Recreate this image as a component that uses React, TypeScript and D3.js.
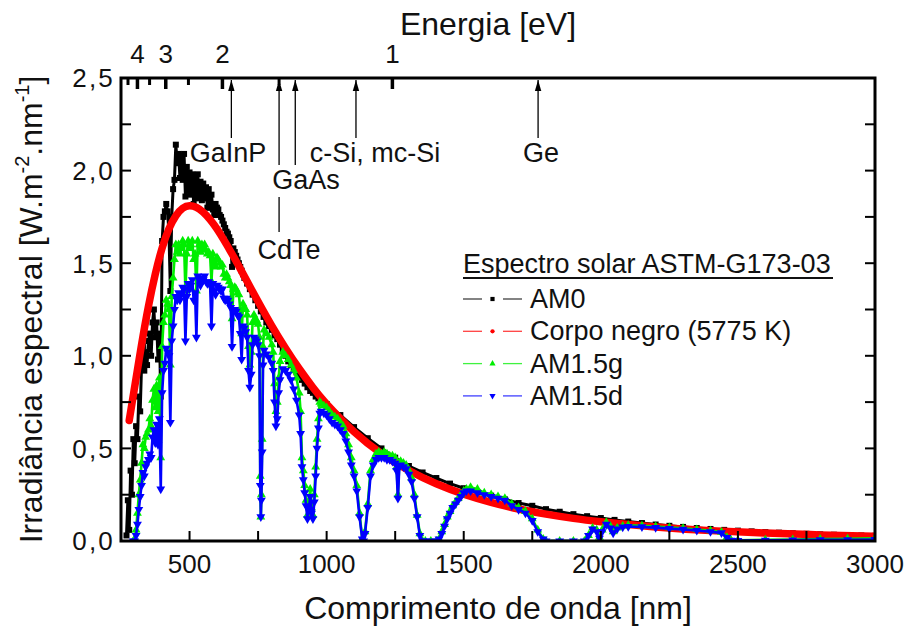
import React from "react";
import * as d3 from "d3";

// Extraterrestrial spectrum (AM0), W.m-2.nm-1
const wlAm0 = [
  270, 275, 280, 285, 290, 295, 300, 305, 310, 315, 320, 325, 330, 335, 340, 345, 350, 355, 360, 365,
  370, 375, 380, 385, 390, 395, 400, 405, 410, 415, 420, 425, 430, 435, 440, 445, 450, 455, 460, 465,
  470, 475, 480, 485, 490, 495, 500, 505, 510, 515, 520, 525, 530, 535, 540, 545, 550, 555, 560, 565,
  570, 575, 580, 585, 590, 595, 600, 605, 610, 615, 620, 625, 630, 635, 640, 645, 650, 655, 660, 665,
  670, 675, 680, 685, 690, 695, 700,
  710, 720, 730, 740, 750, 760, 770, 780, 790, 800, 810, 820, 830, 840, 850, 860, 870, 880, 890, 900,
  910, 920, 930, 940, 950, 960, 970, 980, 990, 1000,
  1050, 1100, 1150, 1200, 1250, 1300, 1350, 1400, 1450, 1500, 1550, 1600, 1650, 1700, 1750, 1800,
  1850, 1900, 1950, 2000, 2050, 2100, 2150, 2200, 2250, 2300, 2350, 2400, 2450, 2500, 2550, 2600,
  2650, 2700, 2750, 2800, 2850, 2900, 2950, 3000,
];
const am0 = [
  0.03, 0.22, 0.06, 0.38, 0.25, 0.55, 0.42, 0.62, 0.55, 0.78, 0.70, 0.95, 1.05, 0.92, 1.02, 0.95, 1.08, 1.12, 1.00, 1.18,
  1.25, 1.10, 1.18, 0.98, 1.12, 0.78, 1.62, 1.75, 1.78, 1.82, 1.78, 1.66, 1.35, 1.75, 1.90, 1.95, 2.14, 2.04, 2.09, 1.96,
  2.08, 1.95, 2.09, 1.86, 2.02, 1.89, 1.99, 1.87, 1.98, 1.82, 1.95, 1.85, 1.98, 1.86, 1.94, 1.84, 1.93, 1.85, 1.91, 1.80,
  1.90, 1.80, 1.87, 1.79, 1.76, 1.82, 1.80, 1.79, 1.76, 1.75, 1.73, 1.71, 1.69, 1.67, 1.66, 1.64, 1.62, 1.48, 1.58, 1.56,
  1.54, 1.52, 1.50, 1.48, 1.46, 1.44, 1.42,
  1.39, 1.36, 1.33, 1.30, 1.27, 1.24, 1.21, 1.18, 1.16, 1.14, 1.11, 1.09, 1.06, 1.03, 1.00, 0.97, 0.95, 0.93, 0.91, 0.89,
  0.87, 0.85, 0.83, 0.81, 0.80, 0.78, 0.77, 0.76, 0.75, 0.74,
  0.68, 0.615, 0.555, 0.50, 0.45, 0.405, 0.37, 0.34, 0.31, 0.285, 0.265, 0.245, 0.225, 0.205, 0.19, 0.172,
  0.158, 0.145, 0.134, 0.124, 0.114, 0.105, 0.097, 0.089, 0.082, 0.076, 0.070, 0.065, 0.060, 0.056, 0.052, 0.048,
  0.045, 0.042, 0.039, 0.036, 0.034, 0.032, 0.030, 0.028,
];

// Black body at 5775 K, scaled to the solar irradiance
const wlBlackbody = [
  280, 300, 325, 350, 375, 400, 425, 450, 475, 500, 525, 550, 575, 600, 625, 650, 675, 700, 750, 800,
  850, 900, 950, 1000, 1100, 1200, 1300, 1400, 1500, 1600, 1700, 1800, 1900, 2000, 2200, 2400, 2600,
  2800, 3000,
];
const blackbody = [
  0.651, 0.834, 1.060, 1.266, 1.441, 1.582, 1.686, 1.756, 1.797, 1.810, 1.801, 1.775, 1.735, 1.685, 1.626,
  1.563, 1.497, 1.429, 1.293, 1.162, 1.041, 0.930, 0.829, 0.740, 0.590, 0.472, 0.381, 0.309, 0.253, 0.209,
  0.173, 0.145, 0.122, 0.104, 0.076, 0.056, 0.043, 0.033, 0.026,
];

// Terrestrial spectra (AM1.5 global and direct) share one wavelength grid
const wlTerrestrial = [
  295, 300, 305, 310, 315, 320, 325, 330, 335, 340,
  345, 350, 355, 360, 365, 370, 375, 380, 385, 390,
  395, 400, 405, 410, 415, 420, 425, 430, 435, 440,
  445, 450, 455, 460, 465, 470, 475, 480, 485, 490,
  495, 500, 505, 510, 515, 520, 525, 530, 535, 540,
  545, 550, 555, 560, 565, 570, 575, 580, 585, 590,
  595, 600, 605, 610, 615, 620, 625, 630, 635, 640,
  645, 650, 655, 660, 665, 670, 675, 680, 685, 690,
  695, 700,
  705, 710, 715, 720, 725, 730, 735, 740, 745, 750,
  755, 758, 760, 762, 765, 768, 772, 780, 790, 800,
  805, 810, 815, 820, 825, 830, 840, 850, 860, 870,
  880, 890, 900, 905, 910, 915, 920, 925, 930, 935,
  940, 945, 950, 955, 960, 965, 970, 975, 980, 990,
  1000,
  1010, 1020, 1030, 1040, 1050, 1060, 1070, 1080, 1090, 1100,
  1110, 1120, 1130, 1135, 1140, 1150, 1160, 1170, 1180, 1190,
  1200, 1210, 1220, 1230, 1240, 1250, 1255, 1260, 1265, 1270,
  1280, 1290, 1300, 1310, 1320, 1330, 1340, 1350, 1360, 1380,
  1400, 1410, 1420, 1430, 1440, 1450, 1460, 1470, 1480, 1490,
  1500, 1510,
  1525, 1550, 1575, 1600, 1625, 1650, 1675, 1700, 1725, 1750,
  1770, 1790, 1800, 1850, 1900, 1940, 1955, 1970, 1985, 1995,
  2005, 2020, 2035, 2045, 2060, 2080, 2100, 2150, 2200, 2250,
  2300, 2350, 2400, 2440, 2460, 2475, 2500, 2600, 2700, 2800,
  2900, 3000,
];
const am15g = [
  0.00, 0.01, 0.06, 0.15, 0.25, 0.33, 0.42, 0.52, 0.50, 0.56,
  0.58, 0.60, 0.66, 0.62, 0.76, 0.82, 0.72, 0.84, 0.70, 0.88,
  0.45, 1.05, 1.18, 1.22, 1.30, 1.28, 1.25, 0.95, 1.32, 1.42,
  1.52, 1.60, 1.56, 1.60, 1.55, 1.58, 1.62, 1.60, 1.35, 1.55,
  1.62, 1.58, 1.60, 1.62, 1.52, 1.55, 1.35, 1.62, 1.60, 1.56,
  1.60, 1.58, 1.60, 1.57, 1.55, 1.56, 1.54, 1.40, 1.55, 1.50,
  1.48, 1.53, 1.52, 1.50, 1.48, 1.49, 1.44, 1.42, 1.44, 1.42,
  1.40, 1.38, 1.20, 1.36, 1.37, 1.36, 1.34, 1.33, 1.25, 1.12,
  1.28, 1.26,
  1.25, 1.22, 1.05, 0.95, 1.02, 1.18, 1.22, 1.20, 1.19, 1.17,
  1.10, 0.35, 0.13, 0.25, 0.55, 1.05, 1.14, 1.12, 1.10, 1.06,
  1.02, 0.85, 0.70, 0.75, 0.88, 0.97, 1.02, 1.00, 0.98, 0.95,
  0.92, 0.88, 0.80, 0.70, 0.45, 0.38, 0.30, 0.22, 0.14, 0.20,
  0.28, 0.18, 0.14, 0.25, 0.40, 0.55, 0.66, 0.75, 0.74, 0.73,
  0.72,
  0.70, 0.68, 0.67, 0.66, 0.64, 0.62, 0.58, 0.52, 0.45, 0.38,
  0.30, 0.15, 0.01, 0.00, 0.05, 0.20, 0.38, 0.44, 0.47, 0.48,
  0.47, 0.48, 0.47, 0.46, 0.46, 0.45, 0.40, 0.25, 0.42, 0.43,
  0.42, 0.41, 0.38, 0.34, 0.25, 0.14, 0.04, 0.00, 0.00, 0.00,
  0.00, 0.01, 0.05, 0.09, 0.13, 0.16, 0.19, 0.21, 0.23, 0.25,
  0.27, 0.28,
  0.29, 0.28, 0.26, 0.25, 0.24, 0.23, 0.20, 0.18, 0.16, 0.12,
  0.06, 0.01, 0.00, 0.00, 0.00, 0.00, 0.03, 0.07, 0.06, 0.02,
  0.06, 0.10, 0.08, 0.05, 0.07, 0.08, 0.085, 0.082, 0.078, 0.072,
  0.068, 0.062, 0.055, 0.048, 0.02, 0.005, 0.004, 0.006, 0.008, 0.010,
  0.012, 0.015,
];
const am15d = [
  0.00, 0.00, 0.03, 0.09, 0.17, 0.24, 0.30, 0.37, 0.35, 0.40,
  0.42, 0.44, 0.47, 0.45, 0.56, 0.60, 0.53, 0.63, 0.52, 0.66,
  0.28, 0.80, 0.92, 0.96, 1.04, 1.02, 1.00, 0.64, 1.08, 1.16,
  1.25, 1.32, 1.30, 1.34, 1.30, 1.33, 1.37, 1.36, 1.08, 1.32,
  1.39, 1.36, 1.38, 1.41, 1.30, 1.34, 1.10, 1.43, 1.41, 1.38,
  1.42, 1.41, 1.43, 1.40, 1.39, 1.40, 1.38, 1.16, 1.39, 1.35,
  1.33, 1.38, 1.37, 1.36, 1.35, 1.36, 1.31, 1.30, 1.31, 1.30,
  1.28, 1.26, 1.05, 1.24, 1.25, 1.24, 1.22, 1.21, 1.12, 0.98,
  1.16, 1.15,
  1.13, 1.10, 0.92, 0.83, 0.90, 1.06, 1.10, 1.09, 1.08, 1.06,
  1.00, 0.30, 0.13, 0.22, 0.48, 0.95, 1.03, 1.01, 0.99, 0.96,
  0.92, 0.75, 0.62, 0.66, 0.80, 0.87, 0.93, 0.92, 0.90, 0.87,
  0.82, 0.76, 0.68, 0.58, 0.40, 0.33, 0.26, 0.19, 0.12, 0.17,
  0.24, 0.15, 0.12, 0.21, 0.35, 0.50, 0.61, 0.69, 0.70, 0.69,
  0.68,
  0.66, 0.64, 0.63, 0.62, 0.60, 0.58, 0.54, 0.48, 0.41, 0.35,
  0.27, 0.13, 0.01, 0.00, 0.04, 0.18, 0.35, 0.41, 0.44, 0.45,
  0.45, 0.45, 0.44, 0.44, 0.43, 0.42, 0.38, 0.23, 0.40, 0.41,
  0.40, 0.39, 0.36, 0.32, 0.23, 0.13, 0.03, 0.00, 0.00, 0.00,
  0.00, 0.01, 0.04, 0.08, 0.12, 0.15, 0.18, 0.20, 0.22, 0.24,
  0.26, 0.27,
  0.27, 0.26, 0.25, 0.24, 0.23, 0.22, 0.19, 0.17, 0.15, 0.11,
  0.05, 0.01, 0.00, 0.00, 0.00, 0.00, 0.03, 0.065, 0.05, 0.015,
  0.05, 0.09, 0.07, 0.043, 0.065, 0.075, 0.078, 0.076, 0.072, 0.067,
  0.063, 0.057, 0.05, 0.044, 0.018, 0.004, 0.003, 0.004, 0.005, 0.006,
  0.007, 0.008,
];

// Axis ticks
const wavelengthTicks = [500, 1000, 1500, 2000, 2500, 3000];
const wavelengthMinorTicks = [750, 1250, 1750, 2250, 2750];
const irradianceTicks = [0, 0.5, 1.0, 1.5, 2.0, 2.5];
const irradianceMinorTicks = [0.25, 0.75, 1.25, 1.75, 2.25];
const energyTicks = [4, 3, 2, 1];
const energyMinorTicks = [4.5, 3.5, 2.5, 1.5];

// Band gaps of photovoltaic materials (eV)
const materials = ["GaInP", "CdTe", "GaAs", "c-Si, mc-Si", "Ge"];
const bandGaps = [1.9, 1.5, 1.4, 1.12, 0.7];

const legendTitle = "Espectro solar ASTM-G173-03";
const seriesNames = ["AM0", "Corpo negro (5775 K)", "AM1.5g", "AM1.5d"];

const FONT = "'Liberation Sans', Arial, Helvetica, sans-serif";
const HC = 1239.84; // eV.nm

export default function App() {
  const width = 906;
  const height = 630;
  const plot = { left: 121, right: 875, top: 78, bottom: 541 };

  const x = d3.scaleLinear().domain([250, 3000]).range([plot.left, plot.right]);
  const y = d3.scaleLinear().domain([0, 2.5]).range([plot.bottom, plot.top]);
  const xEnergy = (e: number) => x(HC / e);

  const line = d3
    .line<[number, number]>()
    .x((d) => x(d[0]))
    .y((d) => y(d[1]));
  const smoothLine = d3
    .line<[number, number]>()
    .x((d) => x(d[0]))
    .y((d) => y(d[1]))
    .curve(d3.curveNatural);
  const pairs = (wl: number[], v: number[]) =>
    wl.map((w, i) => [w, v[i]] as [number, number]);

  const squarePath = d3.symbol().type(d3.symbolSquare).size(36)() as string;
  const trianglePath = d3.symbol().type(d3.symbolTriangle).size(34)() as string;
  const circlePath = d3.symbol().type(d3.symbolCircle).size(30)() as string;

  const am0Pts = pairs(wlAm0, am0);
  const bbPts = pairs(wlBlackbody, blackbody);
  const gPts = pairs(wlTerrestrial, am15g);
  const dPts = pairs(wlTerrestrial, am15d);

  const fmt = (v: number) => v.toFixed(1).replace(".", ",");

  // label placement for each band-gap marker
  const gapLayout: Record<string, { lx: number; ly: number; segs: [number, number][] }> = {
    GaInP: { lx: 228, ly: 162, segs: [[80, 138]] },
    CdTe: { lx: 289, ly: 259, segs: [[80, 165], [197, 232]] },
    GaAs: { lx: 306, ly: 189, segs: [[80, 165]] },
    "c-Si, mc-Si": { lx: 375, ly: 162, segs: [[80, 138]] },
    Ge: { lx: 541, ly: 162, segs: [[80, 138]] },
  };

  const legend = { x: 463, titleY: 273, rowY0: 308, rowGap: 32.3, textX: 530 };
  const seriesStyle = [
    { color: "#000000", marker: "square" },
    { color: "#ff0000", marker: "circle" },
    { color: "#00ee00", marker: "up" },
    { color: "#0000ff", marker: "down" },
  ];

  const markerEl = (
    kind: string,
    color: string,
    cx: number,
    cy: number,
    key: string | number,
    scale = 1
  ) => {
    const d = kind === "square" ? squarePath : kind === "circle" ? circlePath : trianglePath;
    const rot = kind === "down" ? " rotate(180)" : "";
    return (
      <path key={key} d={d} fill={color} transform={`translate(${cx},${cy})${rot} scale(${scale})`} />
    );
  };

  return (
    <svg
      width={width}
      height={height}
      style={{ position: "absolute", left: 0, top: 0, background: "#fff" }}
      fontFamily={FONT}
    >
      <defs>
        <clipPath id="plot-area">
          <rect x={plot.left} y={plot.top} width={plot.right - plot.left} height={plot.bottom - plot.top} />
        </clipPath>
      </defs>
      <rect width={width} height={height} fill="#fff" />

      {/* spectra */}
      <g clipPath="url(#plot-area)">
        <g>
          <path d={line(am0Pts) || ""} fill="none" stroke="#000" strokeWidth={3} strokeLinejoin="round" />
          {am0Pts.map((p, i) => markerEl("square", "#000", x(p[0]), y(p[1]), `a${i}`))}
        </g>
        <path
          d={smoothLine(bbPts) || ""}
          fill="none"
          stroke="#ff0000"
          strokeWidth={7.5}
          strokeLinecap="round"
          strokeLinejoin="round"
        />
        <g>
          <path d={line(gPts) || ""} fill="none" stroke="#00ee00" strokeWidth={2.6} strokeLinejoin="round" />
          {gPts.map((p, i) => markerEl("up", "#00ee00", x(p[0]), y(p[1]), `g${i}`))}
        </g>
        <g>
          <path d={line(dPts) || ""} fill="none" stroke="#0000ff" strokeWidth={2.6} strokeLinejoin="round" />
          {dPts.map((p, i) => markerEl("down", "#0000ff", x(p[0]), y(p[1]), `d${i}`))}
        </g>
      </g>

      {/* frame */}
      <rect
        x={plot.left}
        y={plot.top}
        width={plot.right - plot.left}
        height={plot.bottom - plot.top}
        fill="none"
        stroke="#000"
        strokeWidth={3}
      />

      {/* bottom axis */}
      {[...wavelengthTicks, ...wavelengthMinorTicks].map((t) => (
        <line key={`xt${t}`} x1={x(t)} x2={x(t)} y1={plot.bottom} y2={plot.bottom - 10} stroke="#000" strokeWidth={2} />
      ))}
      {wavelengthTicks.map((t) => (
        <text key={`xl${t}`} x={x(t)} y={573} fontSize={26} textAnchor="middle" fill="#111">
          {t}
        </text>
      ))}
      <text x={(plot.left + plot.right) / 2} y={619} fontSize={32} textAnchor="middle" fill="#111">
        Comprimento de onda [nm]
      </text>

      {/* left and right axes */}
      {[...irradianceTicks, ...irradianceMinorTicks].map((t) => (
        <g key={`yt${t}`}>
          <line x1={plot.left} x2={plot.left + 10} y1={y(t)} y2={y(t)} stroke="#000" strokeWidth={2} />
          <line x1={plot.right} x2={plot.right - 10} y1={y(t)} y2={y(t)} stroke="#000" strokeWidth={2} />
        </g>
      ))}
      {irradianceTicks.map((t) => (
        <text
          key={`yl${t}`}
          x={115}
          y={y(t)}
          dy="0.36em"
          fontSize={26}
          letterSpacing={2.2}
          textAnchor="end"
          fill="#111"
        >
          {fmt(t)}
        </text>
      ))}
      <text
        transform={`translate(31,${(plot.top + plot.bottom) / 2}) rotate(-90)`}
        fontSize={32}
        textAnchor="middle"
        dy="0.35em"
        fill="#111"
      >
        Irradiância espectral [W.m
        <tspan fontSize={20} dy={-13}>-2</tspan>
        <tspan dy={13}>.nm</tspan>
        <tspan fontSize={20} dy={-13}>-1</tspan>
        <tspan dy={13}>]</tspan>
      </text>

      {/* top axis: photon energy */}
      {energyTicks.map((e) => (
        <line key={`et${e}`} x1={xEnergy(e)} x2={xEnergy(e)} y1={plot.top} y2={plot.top + 11} stroke="#000" strokeWidth={3.5} />
      ))}
      {energyMinorTicks.map((e) => (
        <line key={`em${e}`} x1={xEnergy(e)} x2={xEnergy(e)} y1={plot.top} y2={plot.top + 7} stroke="#000" strokeWidth={3} />
      ))}
      {energyTicks.map((e) => (
        <text key={`el${e}`} x={xEnergy(e)} y={63} fontSize={26} textAnchor="middle" fill="#111">
          {e}
        </text>
      ))}
      <text x={488} y={35} fontSize={32} textAnchor="middle" fill="#111">
        Energia [eV]
      </text>

      {/* band-gap arrows */}
      {materials.map((m, i) => {
        const lay = gapLayout[m];
        const ax = xEnergy(bandGaps[i]);
        return (
          <g key={m}>
            {lay.segs.map((s, j) => (
              <line key={j} x1={ax} x2={ax} y1={s[0]} y2={s[1]} stroke="#000" strokeWidth={1.3} />
            ))}
            <path d={`M${ax},${plot.top + 2} L${ax - 3.2},${plot.top + 13} L${ax + 3.2},${plot.top + 13} Z`} fill="#000" />
            <text x={lay.lx} y={lay.ly} fontSize={27} textAnchor="middle" fill="#111">
              {m}
            </text>
          </g>
        );
      })}

      {/* legend */}
      <text x={legend.x} y={legend.titleY} fontSize={27} fill="#111">
        {legendTitle}
      </text>
      <line x1={legend.x} x2={833} y1={legend.titleY + 5} y2={legend.titleY + 5} stroke="#111" strokeWidth={2} />
      {seriesNames.map((name, i) => {
        const by = legend.rowY0 + i * legend.rowGap;
        const cy = by - 9;
        const st = seriesStyle[i];
        return (
          <g key={name}>
            <line x1={463} x2={482} y1={cy} y2={cy} stroke={st.color} strokeWidth={1.3} opacity={0.75} />
            <line x1={503} x2={522} y1={cy} y2={cy} stroke={st.color} strokeWidth={1.3} opacity={0.75} />
            {markerEl(st.marker, st.color, 492.5, cy, `lm${i}`, 0.7)}
            <text x={legend.textX} y={by} fontSize={27} fill="#111">
              {name}
            </text>
          </g>
        );
      })}
    </svg>
  );
}
